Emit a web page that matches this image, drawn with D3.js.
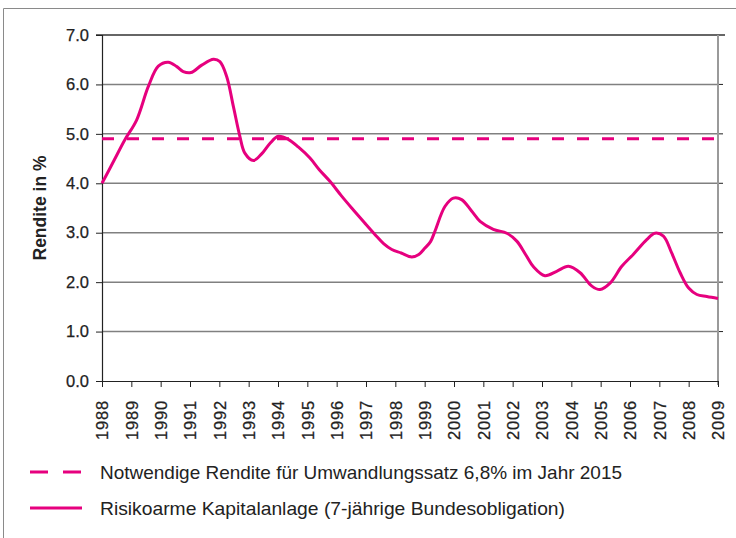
<!DOCTYPE html>
<html><head><meta charset="utf-8">
<script src="https://cdn.jsdelivr.net/npm/d3@7"></script>
<style>
html,body{margin:0;padding:0;background:#fff;}
svg{display:block;font-family:"Liberation Sans",Arial,sans-serif;}
</style></head>
<body>
<svg id="chart" width="736" height="538"></svg>
<script>
const yearTicks = d3.range(1988, 2010);
const yTicks = [0,1,2,3,4,5,6,7];
const yTickLabels = ["0.0","1.0","2.0","3.0","4.0","5.0","6.0","7.0"];
const requiredRate = 4.9;
const seriesTime = [1988.0,1988.4,1988.78,1989.18,1989.58,1989.92,1990.26,1990.55,1990.77,1991.03,1991.4,1991.8,1992.02,1992.25,1992.48,1992.7,1992.87,1993.16,1993.45,1993.73,1994.01,1994.35,1994.7,1995.09,1995.4,1995.77,1996.17,1996.57,1996.95,1997.31,1997.6,1997.88,1998.2,1998.56,1998.8,1999.01,1999.2,1999.35,1999.69,1999.98,2000.26,2000.6,2000.89,2001.34,2001.8,2002.14,2002.45,2002.71,2003.1,2003.5,2003.9,2004.3,2004.7,2004.98,2005.32,2005.72,2006.11,2006.57,2006.85,2007.14,2007.42,2007.71,2008.0,2008.28,2008.62,2009.0];
const seriesValue = [4.00,4.45,4.88,5.28,5.96,6.37,6.45,6.36,6.26,6.24,6.39,6.51,6.46,6.16,5.55,4.95,4.61,4.46,4.60,4.81,4.95,4.89,4.73,4.51,4.28,4.04,3.74,3.46,3.20,2.96,2.78,2.66,2.59,2.51,2.56,2.69,2.82,3.03,3.53,3.70,3.67,3.44,3.23,3.07,2.99,2.83,2.55,2.31,2.13,2.22,2.32,2.19,1.92,1.85,1.98,2.32,2.56,2.86,2.99,2.93,2.59,2.19,1.88,1.75,1.71,1.67];
const legendLabels = ["Notwendige Rendite für Umwandlungssatz 6,8% im Jahr 2015","Risikoarme Kapitalanlage (7-jährige Bundesobligation)"];
const legendWidths = [522, 465];
const yLabel = "Rendite in %";

const pink = "#e6007e";
const textCol = "#222";
const svg = d3.select("#chart");

// outer frame
svg.append("path").attr("d","M3.5,540 V8.5 H740").attr("fill","none").attr("stroke","#8a8a8a").attr("stroke-width",1);

const x = d3.scaleLinear().domain([1988,2009]).range([102,718]);
const y = d3.scaleLinear().domain([0,7]).range([381,35]);

// grid lines
svg.append("g").selectAll("line").data(yTicks.filter(d=>d>0&&d<7)).join("line")
  .attr("x1",102).attr("x2",718).attr("y1",d=>y(d)).attr("y2",d=>y(d))
  .attr("stroke","#808080").attr("stroke-width",1.5);
// top line
svg.append("line").attr("x1",96).attr("x2",725).attr("y1",y(7)).attr("y2",y(7)).attr("stroke","#333").attr("stroke-width",1.3);
// right axis
svg.append("line").attr("x1",718).attr("x2",718).attr("y1",y(7)).attr("y2",y(0)+4).attr("stroke","#9a9a9a").attr("stroke-width",2);
svg.append("g").selectAll("line").data(yTicks.filter(d=>d>0&&d<7)).join("line")
  .attr("x1",719).attr("x2",723).attr("y1",d=>y(d)).attr("y2",d=>y(d)).attr("stroke","#222").attr("stroke-width",1);

// left axis
const yAxis = d3.axisLeft(y).tickValues(yTicks).tickFormat((d,i)=>yTickLabels[i]).tickSize(6).tickPadding(7);
const gy = svg.append("g").attr("transform","translate(102,0)").call(yAxis);
gy.select(".domain").attr("stroke","#222").attr("stroke-width",1.2);
gy.selectAll(".tick line").attr("stroke","#222");
gy.selectAll("text").attr("font-size",16.5).attr("fill",textCol).attr("font-family","Liberation Sans, Arial, sans-serif")
  .attr("stroke",textCol).attr("stroke-width",0.25);

// bottom axis
const xAxis = d3.axisBottom(x).tickValues(yearTicks).tickFormat(d3.format("d")).tickSize(6).tickSizeOuter(0);
const gx = svg.append("g").attr("transform","translate(0,381)").call(xAxis);
gx.select(".domain").attr("stroke","#222").attr("stroke-width",1.2);
gx.selectAll(".tick line").attr("stroke","#222");
gx.selectAll("text").attr("font-size",16.5).attr("fill",textCol).attr("font-family","Liberation Sans, Arial, sans-serif")
  .attr("stroke",textCol).attr("stroke-width",0.25)
  .attr("letter-spacing","0.8px")
  .attr("text-anchor","end").attr("transform","translate(0,19) rotate(-90)")
  .attr("x",0).attr("y",0).attr("dy","0.36em");

// dashed line
svg.append("line").attr("x1",x(1988)).attr("x2",x(2009)).attr("y1",y(requiredRate)).attr("y2",y(requiredRate))
  .attr("stroke",pink).attr("stroke-width",3).attr("stroke-dasharray","12,13");

// series
const line = d3.line().x(d=>x(d[0])).y(d=>y(d[1])).curve(d3.curveCatmullRom.alpha(0.5));
svg.append("path").datum(seriesTime.map((t,i)=>[t,seriesValue[i]]))
  .attr("d",line).attr("fill","none").attr("stroke",pink).attr("stroke-width",3).attr("stroke-linejoin","round");

// y label
svg.append("text").attr("transform","translate(46,208) rotate(-90)").attr("text-anchor","middle")
  .attr("font-size",17.5).attr("font-weight","bold").attr("fill",textCol).text(yLabel);

// legend
const lg = svg.append("g");
lg.append("line").attr("x1",30).attr("x2",82).attr("y1",472).attr("y2",472).attr("stroke",pink).attr("stroke-width",3).attr("stroke-dasharray","18,15");
lg.append("line").attr("x1",30).attr("x2",82).attr("y1",508).attr("y2",508).attr("stroke",pink).attr("stroke-width",3);
lg.selectAll("text").data(legendLabels).join("text")
  .attr("x",100).attr("y",(d,i)=>472+i*36).attr("dy","0.36em")
  .attr("font-size",19).attr("fill",textCol)
  .attr("textLength",(d,i)=>legendWidths[i]).attr("lengthAdjust","spacingAndGlyphs")
  .text(d=>d);
</script>
</body></html>
